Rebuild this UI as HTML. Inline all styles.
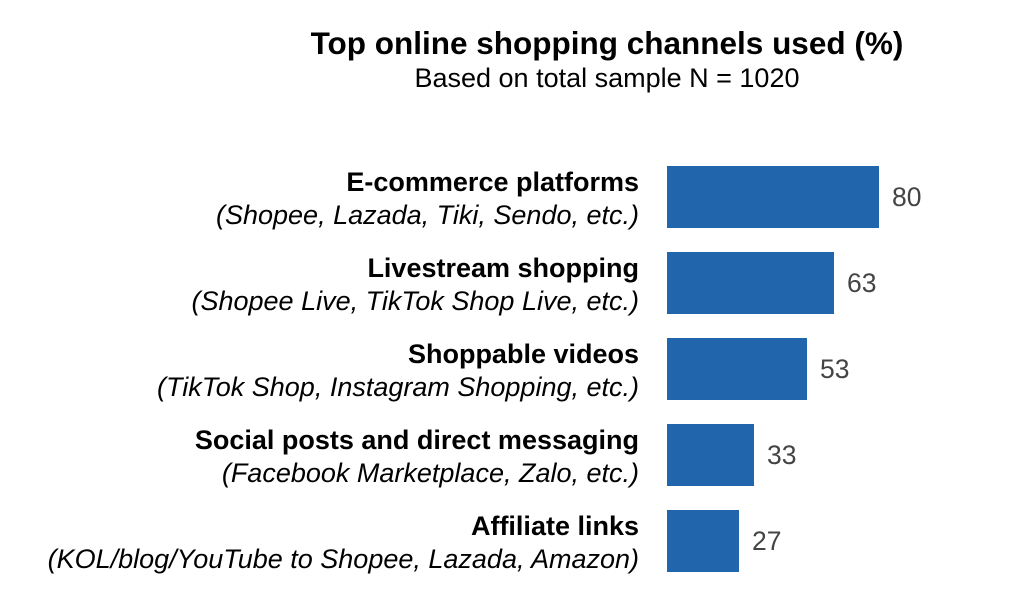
<!DOCTYPE html>
<html><head><style>
body{margin:0;background:#fff;width:1024px;height:608px;overflow:hidden;font-family:"Liberation Sans",Arial,sans-serif;}
svg{display:block}
</style></head><body>
<svg width="1024" height="608" xmlns="http://www.w3.org/2000/svg" font-family="Liberation Sans, Arial, sans-serif">
<text x="607" y="54" text-anchor="middle" font-size="31.5" font-weight="bold" fill="#000">Top online shopping channels used (%)</text>
<text x="607" y="87" text-anchor="middle" font-size="27" fill="#000">Based on total sample N = 1020</text>
<g fill="#2166ac">
<rect x="667" y="166" width="212" height="62"/>
<rect x="667" y="252" width="167" height="62"/>
<rect x="667" y="338" width="140" height="62"/>
<rect x="667" y="424" width="87" height="62"/>
<rect x="667" y="510" width="72" height="62"/>
</g>
<g font-size="26.5" fill="#444">
<text x="892" y="206">80</text>
<text x="847" y="292">63</text>
<text x="820" y="378">53</text>
<text x="767" y="464">33</text>
<text x="752" y="550">27</text>
</g>
<g font-size="27" fill="#000" text-anchor="end">
<text x="639" y="191" font-weight="bold">E-commerce platforms</text>
<text x="639" y="224" font-style="italic">(Shopee, Lazada, Tiki, Sendo, etc.)</text>
<text x="639" y="277" font-weight="bold">Livestream shopping</text>
<text x="639" y="310" font-style="italic">(Shopee Live, TikTok Shop Live, etc.)</text>
<text x="639" y="363" font-weight="bold">Shoppable videos</text>
<text x="639" y="396" font-style="italic">(TikTok Shop, Instagram Shopping, etc.)</text>
<text x="639" y="449" font-weight="bold">Social posts and direct messaging</text>
<text x="639" y="482" font-style="italic">(Facebook Marketplace, Zalo, etc.)</text>
<text x="639" y="535" font-weight="bold">Affiliate links</text>
<text x="639" y="568" font-style="italic">(KOL/blog/YouTube to Shopee, Lazada, Amazon)</text>
</g>
</svg>
</body></html>
